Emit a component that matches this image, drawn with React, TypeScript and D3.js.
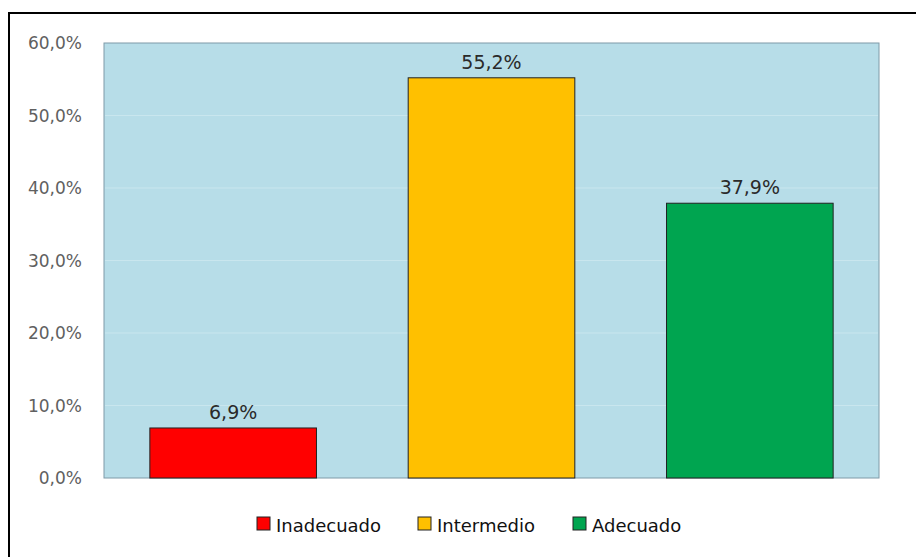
import React, { useRef, useEffect } from 'react'
import * as d3 from 'd3'

const categories = ['Inadecuado', 'Intermedio', 'Adecuado']
const values = [6.9, 55.2, 37.9]
const colors = ['#ff0000', '#ffc000', '#00a550']
const yTicks = [0, 10, 20, 30, 40, 50, 60]

const fmt = (v: number, d: number) => v.toFixed(d).replace('.', ',') + '%'

export default function App() {
  const svgRef = useRef<SVGSVGElement | null>(null)

  useEffect(() => {
    const svg = d3.select(svgRef.current)
    svg.selectAll('*').remove()
    const W = 916
    const H = 557
    const font = 'Tahoma, Verdana, "DejaVu Sans", sans-serif'

    svg.attr('width', W).attr('height', H)

    svg.append('rect').attr('width', W).attr('height', H).attr('fill', '#fff')
    // outer frame, runs off the right and bottom edges like the original
    svg.append('rect')
      .attr('x', 9).attr('y', 13).attr('width', 1000).attr('height', 1000)
      .attr('fill', 'none').attr('stroke', '#000').attr('stroke-width', 2)

    const plot = { left: 104, right: 879, top: 43, bottom: 478 }

    const x = d3.scaleBand<string>()
      .domain(categories)
      .range([plot.left, plot.right])
      .paddingInner(0.355)
      .paddingOuter(0.1775)
    const y = d3.scaleLinear().domain([0, 60]).range([plot.bottom, plot.top])

    svg.append('rect')
      .attr('x', plot.left).attr('y', plot.top)
      .attr('width', plot.right - plot.left).attr('height', plot.bottom - plot.top)
      .attr('fill', '#b7dde8').attr('stroke', '#7f9aa8').attr('stroke-width', 1)

    svg.append('g')
      .selectAll('line')
      .data(yTicks.filter((t) => t > 0 && t < 60))
      .join('line')
      .attr('x1', plot.left + 1).attr('x2', plot.right - 1)
      .attr('y1', (d) => y(d)).attr('y2', (d) => y(d))
      .attr('stroke', '#c9e6ee').attr('stroke-width', 1)

    svg.append('g')
      .selectAll('text')
      .data(yTicks)
      .join('text')
      .attr('x', 82)
      .attr('y', (d) => y(d) + 6)
      .attr('text-anchor', 'end')
      .attr('font-family', font)
      .attr('font-size', 17)
      .attr('fill', '#606060')
      .text((d) => fmt(d, 1))

    svg.append('g')
      .selectAll('rect')
      .data(values)
      .join('rect')
      .attr('x', (d, i) => x(categories[i])!)
      .attr('y', (d) => y(d))
      .attr('width', x.bandwidth())
      .attr('height', (d) => plot.bottom - y(d))
      .attr('fill', (d, i) => colors[i])
      .attr('stroke', '#222').attr('stroke-width', 1)

    svg.append('g')
      .selectAll('text')
      .data(values)
      .join('text')
      .attr('x', (d, i) => x(categories[i])! + x.bandwidth() / 2)
      .attr('y', (d) => y(d) - 9)
      .attr('text-anchor', 'middle')
      .attr('font-family', font)
      .attr('font-size', 19)
      .attr('fill', '#2a2a2a')
      .text((d) => fmt(d, 1))

    // legend
    const legendX = [257, 418, 573]
    const lg = svg.append('g')
    categories.forEach((c, i) => {
      lg.append('rect')
        .attr('x', legendX[i]).attr('y', 517).attr('width', 13).attr('height', 13)
        .attr('fill', colors[i]).attr('stroke', '#222').attr('stroke-width', 1)
      lg.append('text')
        .attr('x', legendX[i] + 19).attr('y', 532)
        .attr('font-family', font)
        .attr('font-size', 18)
        .attr('fill', '#111')
        .text(c)
    })
  }, [])

  return (
    <svg ref={svgRef} style={{ position: 'absolute', left: 0, top: 0, display: 'block' }} />
  )
}
